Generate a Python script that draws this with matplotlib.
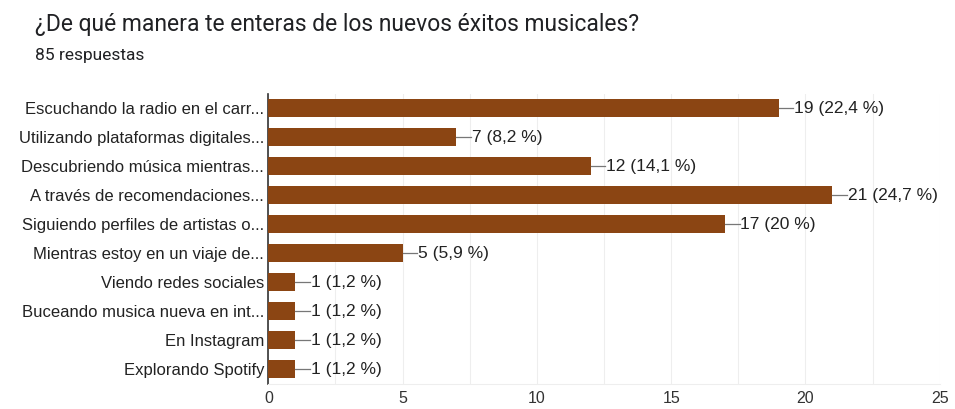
import numpy as np
import matplotlib.pyplot as plt

# datos
categorias = ["Escuchando la radio en el carr...",
              "Utilizando plataformas digitales...",
              "Descubriendo música mientras...",
              "A través de recomendaciones...",
              "Siguiendo perfiles de artistas o...",
              "Mientras estoy en un viaje de...",
              "Viendo redes sociales",
              "Buceando musica nueva en int...",
              "En Instagram",
              "Explorando Spotify"]
valores = [19, 7, 12, 21, 17, 5, 1, 1, 1, 1]
porcentajes = ["22,4", "8,2", "14,1", "24,7", "20", "5,9", "1,2", "1,2", "1,2", "1,2"]
total = 85

plt.rcParams['font.family'] = ['Liberation Sans', 'DejaVu Sans']

fig = plt.figure(figsize=(9.55, 4.09), dpi=100)
ax = fig.add_axes([0.281, 0.062, 0.703, 0.709])

y = np.arange(len(categorias))
ax.barh(y, valores, height=0.62, color='#8b4513', zorder=3)

for yi, v, p in zip(y, valores, porcentajes):
    ax.plot([v, v + 0.55], [yi, yi], color='#777777', lw=0.9, zorder=3)
    ax.text(v + 0.58, yi, f"{v} ({p} %)", va='center', ha='left',
            fontsize=12.5, color='#222222')

ax.set_yticks(y)
ax.set_yticklabels(categorias, fontsize=12, color='#222222')
ax.set_ylim(len(categorias) - 0.5, -0.5)
ax.set_xlim(0, 25)
ax.set_xticks([0, 5, 10, 15, 20, 25])
ax.set_xticks(np.arange(0, 25.1, 2.5), minor=True)
ax.tick_params(axis='x', which='both', length=0, labelsize=11.5, colors='#333333', pad=5)
ax.tick_params(axis='y', length=0, pad=3)
ax.grid(axis='x', which='both', color='#eeeeee', lw=0.8, zorder=0)
for s in ['top', 'right']:
    ax.spines[s].set_visible(False)
ax.spines['bottom'].set_color('#eeeeee')
ax.spines['left'].set_color('#333333')
ax.spines['left'].set_linewidth(1.2)

fig.text(0.037, 0.94, "¿De qué manera te enteras de los nuevos éxitos musicales?",
         fontsize=16.5, color='#202124', va='center', family=['Roboto', 'DejaVu Sans'])
fig.text(0.037, 0.865, f"{total} respuestas", fontsize=12.5, color='#202124', va='center',
         family=['Roboto', 'DejaVu Sans'])

fig.savefig("out.png", dpi=100)
